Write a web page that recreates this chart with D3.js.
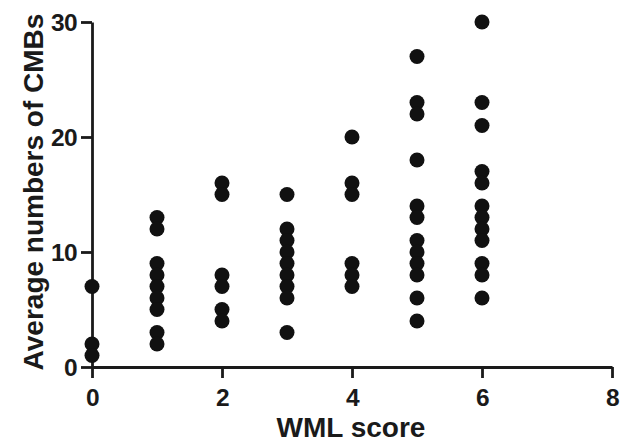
<!DOCTYPE html>
<html>
<head>
<meta charset="utf-8">
<script src="https://cdn.jsdelivr.net/npm/d3@7/dist/d3.min.js"></script>
<style>
  body { margin: 0; background: #fff; }
  svg { display: block; font-family: 'Liberation Sans', Arial, sans-serif; }
</style>
</head>
<body>
<svg id="chart" width="621" height="445"></svg>
<script>
// WML score groups and the CMB counts
const wmlScores = [0, 1, 2, 3, 4, 5, 6];
const score0 = [7, 2, 1];
const score1 = [13, 12, 9, 8, 7, 6, 5, 3, 2];
const score2 = [16, 15, 8, 7, 5, 4];
const score3 = [15, 12, 11, 10, 9, 8, 7, 6, 3];
const score4 = [20, 16, 15, 9, 8, 7];
const score5 = [27, 23, 22, 18, 14, 13, 11, 10, 9, 8, 6, 4];
const score6 = [30, 23, 21, 17, 16, 14, 13, 12, 11, 9, 8, 6];
const xTicks = [0, 2, 4, 6, 8];
const yTicks = [0, 10, 20, 30];

const groups = [score0, score1, score2, score3, score4, score5, score6];
const points = [];
wmlScores.forEach((s, i) => {
  groups[i].forEach(v => points.push({ score: s, cmb: v }));
});

const svg = d3.select('#chart');
const ink = '#1a1a1a';

const x = d3.scaleLinear().domain([0, 8]).range([92, 612]);
const y = d3.scaleLinear().domain([0, 30]).range([367, 22]);

// x axis
const xAxis = svg.append('g')
  .attr('transform', `translate(0,${y(0)})`)
  .call(d3.axisBottom(x).tickValues(xTicks).tickSize(11).tickSizeOuter(0).tickFormat(d3.format('d')));

// y axis
const yAxis = svg.append('g')
  .attr('transform', `translate(${x(0)},0)`)
  .call(d3.axisLeft(y).tickValues(yTicks).tickSize(11).tickSizeOuter(0).tickPadding(4));

[xAxis, yAxis].forEach(g => {
  g.select('.domain').attr('stroke', ink).attr('stroke-width', 2.8);
  g.selectAll('.tick line').attr('stroke', ink).attr('stroke-width', 2.8);
  g.selectAll('.tick text')
    .attr('fill', ink)
    .style('font-size', '24.5px')
    .style('font-weight', 'bold')
    .style('letter-spacing', '-0.6px')
    .style('font-family', "'Liberation Sans', Arial, sans-serif");
});
xAxis.selectAll('.tick text').attr('y', 39).attr('dy', 0);
yAxis.selectAll('.tick text').attr('dy', '0.36em');

// points
svg.append('g')
  .selectAll('circle')
  .data(points)
  .join('circle')
  .attr('cx', d => x(d.score))
  .attr('cy', d => y(d.cmb))
  .attr('r', 7.5)
  .attr('fill', '#111');

// axis titles
svg.append('text')
  .attr('x', 351)
  .attr('y', 437)
  .attr('text-anchor', 'middle')
  .attr('fill', ink)
  .style('font-size', '28px')
  .style('font-weight', 'bold')
  .text('WML score');

svg.append('text')
  .attr('transform', 'translate(43,192) rotate(-90)')
  .attr('text-anchor', 'middle')
  .attr('fill', ink)
  .style('font-size', '28px')
  .style('font-weight', 'bold')
  .text('Average numbers of CMBs');
</script>
</body>
</html>
